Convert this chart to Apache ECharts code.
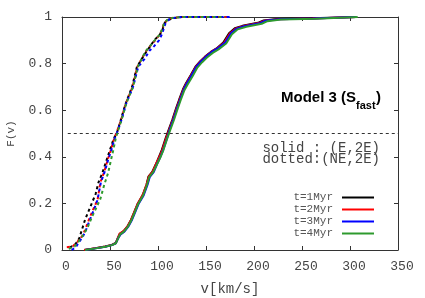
<!DOCTYPE html>
<html>
<head>
<meta charset="utf-8">
<script src="https://cdn.jsdelivr.net/npm/echarts@6/dist/echarts.min.js"></script>
<style>html,body{margin:0;padding:0;background:#fff}#c{width:425px;height:298px}</style>
</head>
<body>
<div id="c"></div>
<script>
// x-axis ticks and y-axis ticks
const xTicks = [0, 50, 100, 150, 200, 250, 300, 350];
const yTicks = [0, 0.2, 0.4, 0.6, 0.8, 1];
const seriesNames = ['t=1Myr', 't=2Myr', 't=3Myr', 't=4Myr'];
const seriesColors = ['#000000', '#ff0000', '#0000ff', '#2e9a2e'];

// solid: (E,2E) -- [v, F(v)]
const solid1 = [[23,0],[35,0.008],[45,0.015],[52,0.022],[56,0.03],[58,0.05],[60,0.068],[64,0.08],[68,0.1],[72,0.13],[76,0.17],[79,0.2],[84,0.235],[88,0.28],[90,0.315],[94,0.335],[98,0.37],[101,0.4],[104,0.43],[108,0.48],[111,0.515],[115,0.56],[119,0.61],[122,0.645],[126,0.69],[129,0.715],[134,0.75],[139,0.787],[144,0.81],[149,0.83],[155,0.85],[161,0.865],[168,0.89],[174,0.93],[180,0.952],[188,0.962],[204,0.975],[210,0.985],[224,0.991],[260,0.995],[306,1.0]];
const solid2 = [[23,0],[35,0.008],[45,0.015],[52,0.022],[56,0.03],[58,0.05],[60,0.07],[64,0.081],[68,0.1],[72,0.13],[76,0.17],[79,0.2],[84,0.236],[88,0.28],[90.5,0.316],[94.5,0.336],[98,0.37],[101.5,0.4],[104.5,0.43],[108.5,0.48],[111.5,0.515],[115.5,0.56],[119.5,0.61],[122.5,0.645],[126.5,0.69],[129.5,0.715],[134.5,0.75],[139.5,0.787],[144.5,0.81],[149.5,0.83],[155.5,0.85],[161.5,0.865],[169,0.89],[175,0.93],[181,0.951],[189,0.961],[205,0.974],[211,0.984],[225,0.99],[261,0.994],[306,1.0]];
const solid3 = [[24,0],[35,0.007],[45,0.014],[52,0.021],[56,0.029],[58.5,0.05],[61,0.067],[65,0.079],[69,0.1],[73,0.13],[77,0.17],[80,0.2],[85,0.234],[89,0.279],[91.5,0.314],[95.5,0.334],[99,0.369],[102.5,0.4],[105.5,0.43],[109.5,0.48],[112,0.515],[116,0.56],[120,0.61],[123,0.645],[127,0.69],[130,0.715],[135,0.75],[140,0.787],[145,0.81],[150,0.83],[156,0.85],[162,0.865],[170,0.89],[176,0.93],[182,0.95],[190,0.96],[206,0.973],[212,0.984],[226,0.99],[262,0.994],[306,1.0]];
const solid4 = [[24,0],[35,0.007],[45,0.014],[52,0.021],[56,0.029],[58.5,0.05],[60.5,0.067],[64.5,0.079],[68.5,0.099],[72.5,0.129],[76.5,0.169],[79.5,0.199],[84.5,0.234],[88.5,0.279],[91,0.314],[95,0.334],[99,0.368],[102.5,0.398],[105.5,0.428],[109.5,0.478],[112.5,0.512],[116.5,0.557],[120.5,0.607],[123.5,0.642],[127.5,0.686],[131,0.711],[136,0.746],[141,0.783],[146,0.806],[151,0.826],[157,0.846],[163,0.861],[171,0.886],[177,0.926],[183,0.947],[192,0.958],[208,0.971],[214,0.982],[228,0.989],[264,0.993],[308,1.0]];

// dotted: (NE,2E) -- [v, F(v)]
const dotted1 = [[8,0.01],[14,0.025],[18,0.05],[21,0.09],[24,0.13],[28,0.17],[31,0.2],[35,0.24],[38,0.29],[42,0.33],[46,0.38],[50,0.43],[54,0.48],[57,0.5],[61,0.555],[66,0.625],[73,0.7],[78,0.785],[83,0.82],[88,0.852],[92,0.875],[96,0.9],[102,0.925],[105,0.95],[107,0.975],[110,0.987],[116,0.995],[125,1.0],[165,1.0]];
const dotted2 = [[5,0.012],[11,0.015],[16,0.035],[21,0.06],[24,0.086],[28,0.13],[32,0.17],[37,0.215],[40,0.29],[44,0.336],[47.5,0.386],[51,0.43],[54.5,0.48],[56.5,0.5],[61.5,0.558],[66.5,0.63],[73.5,0.7],[78.5,0.787],[83,0.82],[87,0.85],[92,0.876],[97,0.9],[102,0.925],[104.5,0.95],[106.5,0.975],[110,0.987],[115,0.996],[124,1.0],[172,1.0]];
const dotted3 = [[10,0.0],[14,0.01],[18,0.035],[22,0.06],[25,0.086],[29,0.13],[33,0.17],[37,0.215],[40.5,0.29],[44.5,0.336],[48,0.386],[51.5,0.43],[55,0.48],[57,0.5],[62,0.558],[67,0.63],[74,0.7],[79.5,0.787],[86,0.82],[91,0.855],[96,0.875],[101,0.9],[104,0.925],[106,0.95],[108,0.975],[111,0.988],[116,0.996],[125,1.0],[176,1.0]];
const dotted4 = [[7,0.005],[13,0.015],[18,0.04],[23,0.07],[27,0.1],[31,0.14],[35,0.175],[40,0.22],[44,0.28],[48,0.33],[51,0.386],[53.5,0.43],[56,0.48],[57.5,0.5],[62,0.558],[67,0.63],[74,0.7],[79,0.787],[83,0.82],[87,0.852],[92,0.877],[96.5,0.9],[102,0.925],[104.5,0.95],[106.5,0.975],[109.5,0.987],[115,0.996],[124,1.0],[170,1.0]];

// reference level F = 0.5
const halfLine = [[6,0.5],[350,0.5]];

const solids = [solid1, solid2, solid3, solid4];
const dotteds = [dotted1, dotted2, dotted3, dotted4];

const mono = '"Liberation Mono", "Courier New", monospace';
const axisCol = '#333';
const labCol = '#444';

const series = [];
dotteds.forEach((d, i) => series.push({
  name: seriesNames[i] + ' (NE,2E)', type: 'line', data: d, showSymbol: false, symbol: 'none',
  lineStyle: { color: seriesColors[i], width: 2, type: [3, 3] }, itemStyle: { color: seriesColors[i] },
  animation: false, silent: true, z: 2
}));
solids.forEach((d, i) => series.push({
  name: seriesNames[i], type: 'line', data: d, showSymbol: false, symbol: 'none',
  lineStyle: { color: seriesColors[i], width: 2 }, itemStyle: { color: seriesColors[i] },
  animation: false, silent: true, z: 3
}));
series.push({
  name: 'F=0.5', type: 'line', data: halfLine, showSymbol: false, symbol: 'none',
  lineStyle: { color: '#333', width: 1, type: [3, 3] }, animation: false, silent: true, z: 1
});

const chart = echarts.init(document.getElementById('c'), null, { renderer: 'canvas' });
chart.setOption({
  backgroundColor: '#fff',
  animation: false,
  grid: { left: 62, right: 27, top: 17, bottom: 48, containLabel: false, outerBoundsMode: 'none' },
  xAxis: [{
    type: 'value', min: xTicks[0], max: xTicks[xTicks.length - 1], interval: xTicks[1] - xTicks[0],
    name: 'v[km/s]', nameLocation: 'middle', nameGap: 32,
    nameTextStyle: { fontFamily: mono, fontSize: 14, color: labCol },
    axisLine: { show: true, onZero: false, lineStyle: { color: axisCol, width: 1 } },
    axisTick: { show: true, inside: true, length: 4, lineStyle: { color: axisCol } },
    axisLabel: { fontFamily: mono, fontSize: 13, color: labCol, margin: 10, padding: [0, 0, 0, 8] },
    splitLine: { show: false }
  }, {
    type: 'value', position: 'top', min: xTicks[0], max: xTicks[xTicks.length - 1], interval: xTicks[1] - xTicks[0],
    axisLine: { show: true, onZero: false, lineStyle: { color: axisCol, width: 1 } },
    axisTick: { show: true, inside: true, length: 4, lineStyle: { color: axisCol } },
    axisLabel: { show: false }, splitLine: { show: false }
  }],
  yAxis: [{
    type: 'value', min: yTicks[0], max: yTicks[yTicks.length - 1], interval: yTicks[1] - yTicks[0],
    name: 'F(v)', nameLocation: 'middle', nameGap: 45, nameRotate: 90,
    nameTextStyle: { fontFamily: mono, fontSize: 11, color: labCol },
    axisLine: { show: true, onZero: false, lineStyle: { color: axisCol, width: 1 } },
    axisTick: { show: true, inside: true, length: 4, lineStyle: { color: axisCol } },
    axisLabel: { fontFamily: mono, fontSize: 13, color: labCol, margin: 10 },
    splitLine: { show: false }
  }, {
    type: 'value', position: 'right', min: yTicks[0], max: yTicks[yTicks.length - 1], interval: yTicks[1] - yTicks[0],
    axisLine: { show: true, onZero: false, lineStyle: { color: axisCol, width: 1 } },
    axisTick: { show: true, inside: true, length: 4, lineStyle: { color: axisCol } },
    axisLabel: { show: false }, splitLine: { show: false }
  }],
  legend: {
    data: seriesNames, orient: 'vertical', right: 51, top: 192, align: 'right',
    icon: 'rect', itemWidth: 32, itemHeight: 2, itemGap: 1, selectedMode: false,
    padding: 0,
    textStyle: { fontFamily: mono, fontSize: 11, color: '#555', lineHeight: 11, padding: [0, 4, 0, 0] }
  },
  graphic: [
    { type: 'text', left: 281, top: 90, silent: true,
      style: { text: 'Model 3 (S', font: 'bold 15px "Liberation Sans", Arial, sans-serif', fill: '#000' } },
    { type: 'text', left: 356, top: 100, silent: true,
      style: { text: 'fast', font: 'bold 11px "Liberation Sans", Arial, sans-serif', fill: '#000' } },
    { type: 'text', left: 376, top: 90, silent: true,
      style: { text: ')', font: 'bold 15px "Liberation Sans", Arial, sans-serif', fill: '#000' } },
    { type: 'text', right: 45, top: 141, silent: true,
      style: { text: 'solid : (E,2E)', font: '14px ' + mono, fill: labCol } },
    { type: 'text', right: 45, top: 152, silent: true,
      style: { text: 'dotted:(NE,2E)', font: '14px ' + mono, fill: labCol } }
  ],
  series: series
});
</script>
</body>
</html>
